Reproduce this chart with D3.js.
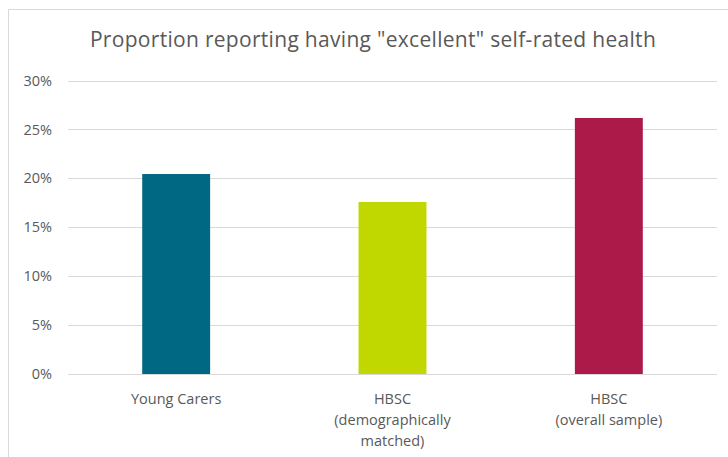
<!DOCTYPE html>
<html lang="en">
<head>
  <meta charset="UTF-8">
  <title>Proportion reporting having "excellent" self-rated health</title>
  <style>
    body {
      margin: 0;
      background-color: #fff;
    }
    svg text {
      font-family: "Open Sans", "Noto Sans", sans-serif;
      fill: #595959;
    }
  </style>
  <script src="https://d3js.org/d3.v7.min.js"></script>
</head>
<body>
  <svg id="chart" width="728" height="457"></svg>

  <script>
    // Chart data
    const categories = ['Young Carers', 'HBSC (demographically matched)', 'HBSC (overall sample)'];
    const labelLines = [['Young Carers'], ['HBSC', '(demographically', 'matched)'], ['HBSC', '(overall sample)']];
    const values = [0.2044, 0.1758, 0.2617];
    const colors = ['#006882', '#c0d800', '#ab1a48'];
    const yTicks = [0, 0.05, 0.10, 0.15, 0.20, 0.25, 0.30];

    const svg = d3.select('#chart');
    const width = 728;
    const height = 457;

    const margin = { top: 80.5, right: 11, bottom: 83, left: 68 };

    // Chart frame (cut off on the right and bottom)
    svg.append('path')
      .attr('d', `M8.5,${height}V9.5H${width}`)
      .attr('fill', 'none')
      .attr('stroke', '#d9d9d9')
      .attr('stroke-width', 1);

    // Title
    svg.append('text')
      .attr('x', 373)
      .attr('y', 47)
      .attr('text-anchor', 'middle')
      .attr('font-size', '21px')
      .attr('letter-spacing', '0.3px')
      .text('Proportion reporting having "excellent" self-rated health');

    const x = d3.scaleBand()
      .domain(categories)
      .range([margin.left, width - margin.right])
      .paddingInner(0.686)
      .paddingOuter(0.343);

    const y = d3.scaleLinear()
      .domain([0, 0.30])
      .range([height - margin.bottom, margin.top]);

    // Gridlines
    svg.append('g')
      .selectAll('line')
      .data(yTicks)
      .join('line')
      .attr('x1', margin.left)
      .attr('x2', width - margin.right)
      .attr('y1', d => Math.round(y(d)) + 0.5)
      .attr('y2', d => Math.round(y(d)) + 0.5)
      .attr('stroke', '#d9d9d9')
      .attr('stroke-width', 1);

    // Y axis labels
    const yAxis = svg.append('g')
      .attr('transform', `translate(${margin.left}, 0)`)
      .call(d3.axisLeft(y).tickValues(yTicks).tickFormat(d3.format('.0%')).tickSize(0).tickPadding(16));
    yAxis.select('.domain').remove();
    yAxis.selectAll('text')
      .attr('font-size', '14.5px')
      .attr('fill', '#595959')
      .style('font-family', '"Open Sans", sans-serif');

    // Bars
    svg.append('g')
      .selectAll('rect')
      .data(values)
      .join('rect')
      .attr('x', (d, i) => x(categories[i]))
      .attr('y', d => y(d))
      .attr('width', x.bandwidth())
      .attr('height', d => y(0) - y(d))
      .attr('fill', (d, i) => colors[i]);

    // Category labels
    const labels = svg.append('g')
      .selectAll('text')
      .data(categories)
      .join('text')
      .attr('x', d => x(d) + x.bandwidth() / 2)
      .attr('y', 404)
      .attr('text-anchor', 'middle')
      .attr('font-size', '14.5px');

    labels.selectAll('tspan')
      .data((d, i) => labelLines[i])
      .join('tspan')
      .attr('x', function () { return this.parentNode.getAttribute('x'); })
      .attr('dy', (d, i) => i === 0 ? 0 : 21)
      .text(d => d);
  </script>
</body>
</html>
